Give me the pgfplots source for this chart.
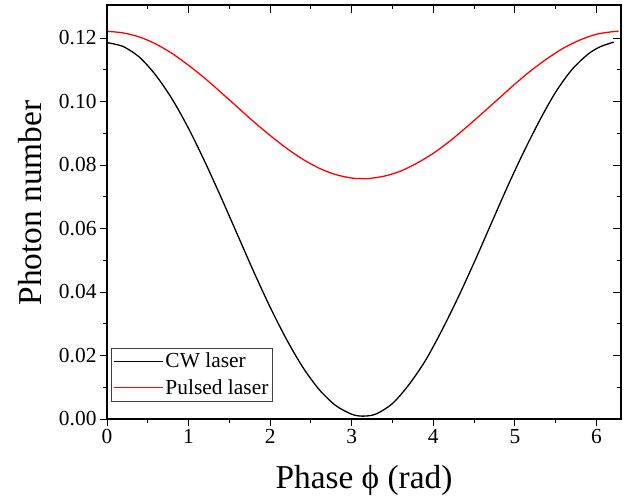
\documentclass[border=0pt]{standalone}
\usepackage{fontspec}
\setmainfont{Liberation Serif}
\usepackage{pgfplots}
\pgfplotsset{compat=1.18}

\begin{document}
\begin{tikzpicture}
\useasboundingbox (0bp,0bp) rectangle (638bp,497bp);
% main axis: left/bottom ticks outside
\begin{axis}[
  at={(107bp,78bp)}, anchor=south west,
  scale only axis, width=514bp, height=414bp,
  xmin=0, xmax=6.3, ymin=0, ymax=0.1304,
  xtick={0,1,2,3,4,5,6},
  ytick={0,0.02,0.04,0.06,0.08,0.10,0.12},
  minor x tick num=1, minor y tick num=1,
  xtick pos=left, ytick pos=left,
  tick align=outside,
  major tick length=7bp, minor tick length=4bp,
  every tick/.style={black, line width=1pt},
  axis line style={line width=1.2pt},
  scaled y ticks=false,
  /pgf/number format/assume math mode=true,
  yticklabel style={/pgf/number format/.cd, fixed, fixed zerofill, precision=2},
  ticklabel style={font=\fontsize{21.5}{25}\selectfont},
  xlabel={Phase ϕ (rad)},
  ylabel={Photon number},
  label style={font=\fontsize{33.5}{38}\selectfont},
  xlabel style={at={(axis description cs:0.5,-0.1667)}, anchor=base},
  ylabel style={at={(axis description cs:-0.1265,0.522)}, anchor=base},
  legend style={at={(axis description cs:0.0078,0.0435)}, anchor=south west,
    draw=black!75, font=\fontsize{21.5}{24}\selectfont,
    inner xsep=2bp, inner ysep=3bp, row sep=6bp},
  legend cell align=left,
  legend image code/.code={\draw[#1, line width=1.3pt] (0bp,0bp) -- (49bp,0bp);},
]
\addplot[black, line width=1.3pt, smooth] coordinates {
(0.01,0.1185) (0.2,0.1173) (0.4,0.1139) (0.6,0.1082) (0.8,0.1007) (1.0,0.0915)
(1.2,0.0810) (1.4,0.0697) (1.6,0.0580) (1.8,0.0463) (2.0,0.0352) (2.2,0.0251)
(2.4,0.0163) (2.6,0.0093) (2.8,0.0043) (3.0,0.0015) (3.14,0.0009) (3.3,0.0016)
(3.5,0.0049) (3.7,0.0108) (3.9,0.0183) (4.1,0.0277) (4.3,0.0381) (4.5,0.0493)
(4.7,0.0610) (4.9,0.0727) (5.1,0.0837) (5.3,0.0939) (5.5,0.1030) (5.7,0.1101)
(5.9,0.1150) (6.05,0.1173) (6.21,0.1187)
};
\addlegendentry{CW laser}
\addplot[red, line width=1.3pt, smooth] coordinates {
(0.01,0.1221) (0.2,0.1216) (0.4,0.1203) (0.6,0.1181) (0.8,0.1151) (1.0,0.1114)
(1.2,0.1073) (1.4,0.1028) (1.6,0.0982) (1.8,0.0936) (2.0,0.0893) (2.2,0.0853)
(2.4,0.0818) (2.6,0.0790) (2.8,0.0770) (3.0,0.0759) (3.14,0.0757) (3.2,0.0757)
(3.4,0.0765) (3.6,0.0781) (3.8,0.0806) (4.0,0.0837) (4.2,0.0875) (4.4,0.0918)
(4.6,0.0963) (4.8,0.1009) (5.0,0.1055) (5.2,0.1098) (5.4,0.1136) (5.6,0.1169)
(5.8,0.1194) (6.0,0.1212) (6.2,0.1220) (6.27,0.1221)
};
\addlegendentry{Pulsed laser}
\end{axis}
% mirror axis: top/right ticks inside
\begin{axis}[
  at={(107bp,78bp)}, anchor=south west,
  scale only axis, width=514bp, height=414bp,
  xmin=0, xmax=6.3, ymin=0, ymax=0.1304,
  xtick={0,1,2,3,4,5,6},
  ytick={0,0.02,0.04,0.06,0.08,0.10,0.12},
  minor x tick num=1, minor y tick num=1,
  xtick pos=right, ytick pos=right,
  tick align=inside,
  major tick length=8bp, minor tick length=4bp,
  every tick/.style={black, line width=1pt},
  axis line style={line width=1.2pt},
  xticklabels={}, yticklabels={},
]
\end{axis}
\end{tikzpicture}
\end{document}
